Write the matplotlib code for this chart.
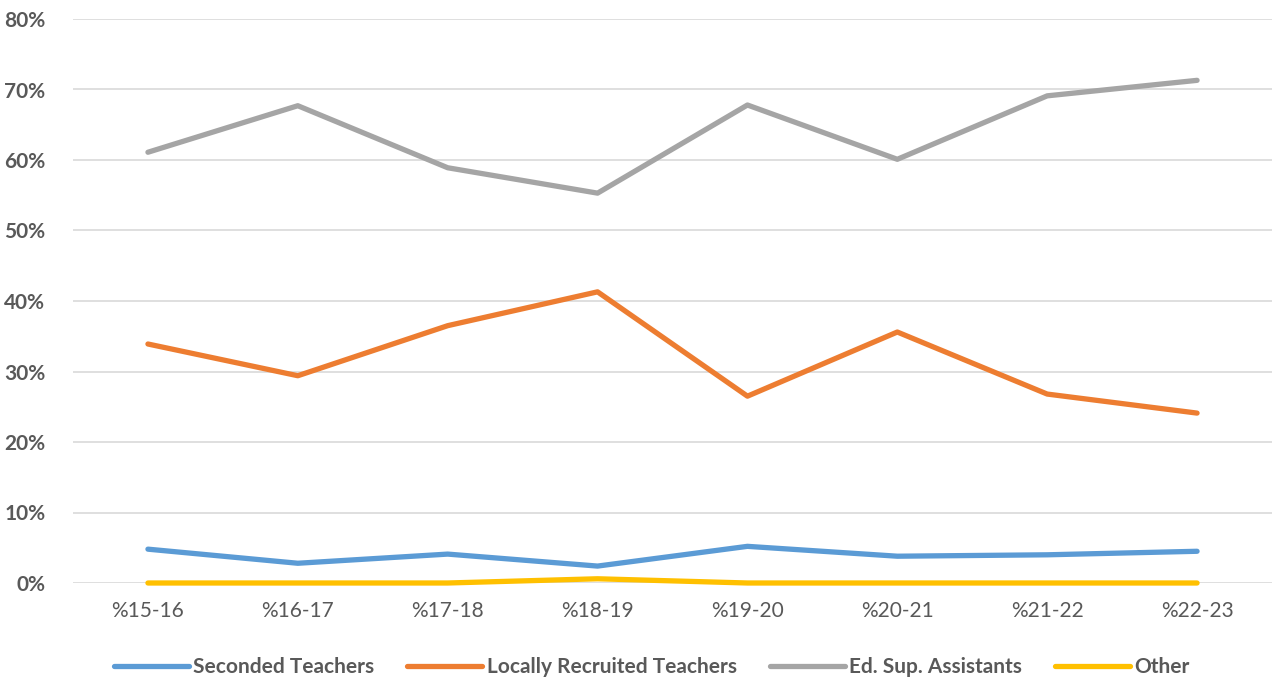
import matplotlib.pyplot as plt
from matplotlib.ticker import PercentFormatter

years = ["%15-16", "%16-17", "%17-18", "%18-19", "%19-20", "%20-21", "%21-22", "%22-23"]
seconded = [4.8, 2.8, 4.1, 2.4, 5.2, 3.8, 4.0, 4.5]
local = [33.9, 29.4, 36.5, 41.3, 26.5, 35.6, 26.8, 24.1]
assistants = [61.1, 67.7, 58.9, 55.3, 67.8, 60.1, 69.1, 71.3]
other = [0.0, 0.0, 0.0, 0.6, 0.0, 0.0, 0.0, 0.0]

plt.rcParams['font.family'] = ['Lato', 'DejaVu Sans']

fig = plt.figure(figsize=(12.73, 6.84), dpi=100)
ax = fig.add_axes([73 / 1273, 1 - 583 / 684, 1199 / 1273, 564 / 684])

x = range(len(years))
lw = 3.8
series = [(seconded, "#5b9bd5", "Seconded Teachers"),
          (local, "#ed7d31", "Locally Recruited Teachers"),
          (assistants, "#a5a5a5", "Ed. Sup. Assistants"),
          (other, "#ffc000", "Other")]
for vals, col, name in series:
    ax.plot(x, vals, color=col, lw=lw, label=name, solid_capstyle="round", clip_on=False)

ax.set_xlim(-0.5, len(years) - 0.5)
ax.set_ylim(0, 80)
ax.set_yticks(range(0, 81, 10))
ax.yaxis.set_major_formatter(PercentFormatter(decimals=0))
ax.set_xticks(list(x))
ax.set_xticklabels(years)
ax.grid(axis="y", color="#d9d9d9", lw=1.2)
ax.set_axisbelow(True)
for s in ax.spines.values():
    s.set_visible(False)
ax.tick_params(length=0)
ax.tick_params(axis="x", labelsize=15, labelcolor="#595959", pad=13)
ax.tick_params(axis="y", labelsize=15, labelcolor="#595959", pad=20)
for t in ax.get_yticklabels():
    t.set_fontweight("bold")

leg = fig.legend(loc="center", bbox_to_anchor=(0.512, 1 - 667 / 684), ncol=4, frameon=False,
                 handlelength=3.6, columnspacing=1.6, handletextpad=0.2,
                 prop={"size": 15, "weight": "bold"})
for t in leg.get_texts():
    t.set_color("#595959")

fig.savefig("out.png", dpi=100)
